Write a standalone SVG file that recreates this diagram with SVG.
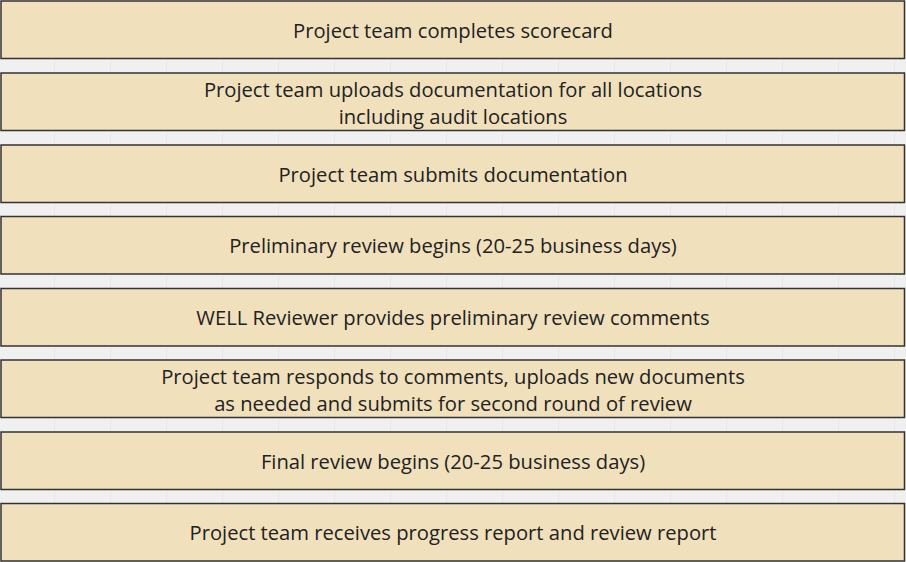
<svg xmlns="http://www.w3.org/2000/svg" width="906" height="562" viewBox="0 0 906 562">
<defs>
<pattern id="grid" x="-1" y="0" width="56" height="56" patternUnits="userSpaceOnUse">
<path d="M56 0V56" stroke="#e0e0e0" stroke-width="1" fill="none"/>
</pattern>
</defs>
<style>
.box{fill:#f0e0bc;stroke:#333;stroke-width:1.5}
.t{font-family:"Open Sans","Noto Sans",sans-serif;font-size:20.2px;fill:#222;text-anchor:middle;dominant-baseline:central}
</style>
<rect width="906" height="562" fill="#f0f0f0"/>
<rect width="906" height="562" fill="url(#grid)"/>
<g id="connectors"></g>
<g id="n1"><rect class="box" x="1" y="1" width="903.5" height="57.5"/><text class="t" x="453" y="29.5">Project team completes scorecard</text></g>
<g id="n2"><rect class="box" x="1" y="73" width="903.5" height="57.5"/><text class="t" x="453" y="88.5">Project team uploads documentation for all locations</text><text class="t" x="453" y="115.5">including audit locations</text></g>
<g id="n3"><rect class="box" x="1" y="145" width="903.5" height="57.5"/><text class="t" x="453" y="173.5">Project team submits documentation</text></g>
<g id="n4"><rect class="box" x="1" y="216.5" width="903.5" height="57.5"/><text class="t" x="453" y="244.5">Preliminary review begins (20-25 business days)</text></g>
<g id="n5"><rect class="box" x="1" y="288.5" width="903.5" height="57.5"/><text class="t" x="453" y="316.5">WELL Reviewer provides preliminary review comments</text></g>
<g id="n6"><rect class="box" x="1" y="360" width="903.5" height="57.5"/><text class="t" x="453" y="375.5">Project team responds to comments, uploads new documents</text><text class="t" x="453" y="402.5">as needed and submits for second round of review</text></g>
<g id="n7"><rect class="box" x="1" y="432" width="903.5" height="57.5"/><text class="t" x="453" y="460.5">Final review begins (20-25 business days)</text></g>
<g id="n8"><rect class="box" x="1" y="503.5" width="903.5" height="57.5"/><text class="t" x="453" y="531.5">Project team receives progress report and review report</text></g>
</svg>
